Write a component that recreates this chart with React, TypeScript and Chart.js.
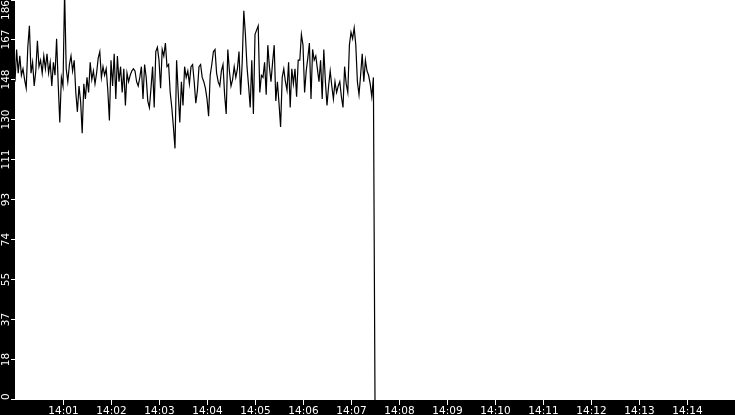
import { useEffect, useRef } from "react";
import Chart from "chart.js/auto";

// one sample every 2 s, starting at 14:00:00
const sampleSeconds = 2;
const axisMaxSeconds = 900; // 14:00 .. 14:15
const yMax = 186;

const values = [
  148, 163, 152, 160, 151, 154, 149, 145, 164, 174, 152, 157, 146, 153, 167, 155,
  158, 152, 160, 154, 161, 152, 157, 146, 157, 151, 168, 147, 129, 150, 146, 190,
  154, 148, 156, 160, 153, 158, 143, 134, 146, 139, 124, 147, 140, 150, 143, 157,
  149, 153, 147, 152, 159, 162, 150, 155, 151, 154, 144, 130, 158, 146, 161, 140,
  160, 148, 155, 143, 154, 137, 152, 148, 151, 153, 154, 153, 148, 146, 150, 155,
  140, 156, 150, 139, 136, 145, 155, 136, 162, 164, 158, 145, 163,
  160, 166, 155, 156, 143, 136, 127, 117, 158, 143, 129, 148, 137, 155, 150, 153,
  147, 155, 156, 148, 138, 144, 155, 156, 150, 148, 145, 140, 132, 151, 156, 162,
  163, 152, 148, 146, 153, 156, 142, 133, 163, 153, 146, 149, 155,
  150, 154, 162, 142, 157, 181, 170, 155, 146, 136, 158, 133, 170, 172, 174, 143,
  151, 150, 157, 142, 165, 155, 148, 157, 165, 139, 148, 138, 127, 150, 154, 148,
  144, 157, 136, 154, 147, 154, 141, 158, 158, 170, 165, 143, 153, 159, 166, 140,
  163,
  158, 160, 154, 148, 158, 140, 163, 148, 137, 146, 153, 146, 140, 148, 143, 146,
  148, 141, 136, 155, 147, 143, 165, 171, 168, 173, 165, 148, 142, 151, 161, 148,
  158, 153, 151, 147, 141, 150,
  0,
];

const yTickLabels = ["0", "18", "37", "55", "74", "93", "111", "130", "148", "167", "186"];
const xTickLabels = [
  "14:01", "14:02", "14:03", "14:04", "14:05", "14:06", "14:07",
  "14:08", "14:09", "14:10", "14:11", "14:12", "14:13", "14:14",
];

const points = values.map((v, i) => ({ x: i * sampleSeconds, y: v }));

// black frame with white ticks, drawn around the chart area
const framePlugin = {
  id: "blackFrame",
  beforeDraw(chart: Chart) {
    const { ctx, chartArea, width, height } = chart;
    ctx.save();
    ctx.fillStyle = "#000";
    ctx.fillRect(0, 0, width, height);
    ctx.fillStyle = "#fff";
    ctx.fillRect(
      chartArea.left,
      chartArea.top,
      chartArea.right - chartArea.left,
      chartArea.bottom - chartArea.top
    );
    ctx.restore();
  },
  afterDraw(chart: Chart) {
    const { ctx, chartArea, scales } = chart;
    ctx.save();
    ctx.strokeStyle = "#fff";
    ctx.fillStyle = "#fff";
    ctx.lineWidth = 1;
    ctx.font = "10.5px 'DejaVu Sans', sans-serif";

    // y ticks, labels rotated
    const steps = yTickLabels.length - 1;
    yTickLabels.forEach((label, k) => {
      let y = Math.round(scales.y.getPixelForValue((k * yMax) / steps)) - 0.5;
      y = Math.max(y, chartArea.top + 0.5);
      ctx.beginPath();
      ctx.moveTo(chartArea.left - 4, y);
      ctx.lineTo(chartArea.left, y);
      ctx.stroke();
      const w = ctx.measureText(label).width;
      const cy = Math.min(Math.max(y, chartArea.top + w / 2), chartArea.bottom - w / 2);
      ctx.save();
      ctx.translate(6, cy);
      ctx.rotate(-Math.PI / 2);
      ctx.textAlign = "center";
      ctx.textBaseline = "middle";
      ctx.fillText(label, 0, 0);
      ctx.restore();
    });

    // x ticks
    xTickLabels.forEach((label, k) => {
      const x = Math.round(scales.x.getPixelForValue((k + 1) * 60)) + 0.5;
      ctx.beginPath();
      ctx.moveTo(x, chartArea.bottom);
      ctx.lineTo(x, chartArea.bottom + 5);
      ctx.stroke();
      ctx.textAlign = "center";
      ctx.textBaseline = "alphabetic";
      ctx.fillText(label, x, chartArea.bottom + 14);
    });
    ctx.restore();
  },
};

export default function App() {
  const canvasRef = useRef<HTMLCanvasElement>(null);

  useEffect(() => {
    if (!canvasRef.current) return;
    const chart = new Chart(canvasRef.current, {
      type: "line",
      data: {
        datasets: [
          {
            data: points,
            borderColor: "#000",
            borderWidth: 1.2,
            pointRadius: 0,
            tension: 0,
            fill: false,
          },
        ],
      },
      options: {
        animation: false,
        responsive: false,
        devicePixelRatio: 1,
        layout: { padding: { left: 15, bottom: 15, top: 0, right: 0 } },
        scales: {
          x: { type: "linear", min: 0, max: axisMaxSeconds, display: false },
          y: { min: 0, max: yMax, display: false },
        },
        plugins: {
          legend: { display: false },
          tooltip: { enabled: false },
        },
      },
      plugins: [framePlugin],
    });
    return () => chart.destroy();
  }, []);

  return (
    <div style={{ position: "fixed", left: 0, top: 0, width: 735, height: 415 }}>
      <canvas ref={canvasRef} width={735} height={415}></canvas>
    </div>
  );
}
